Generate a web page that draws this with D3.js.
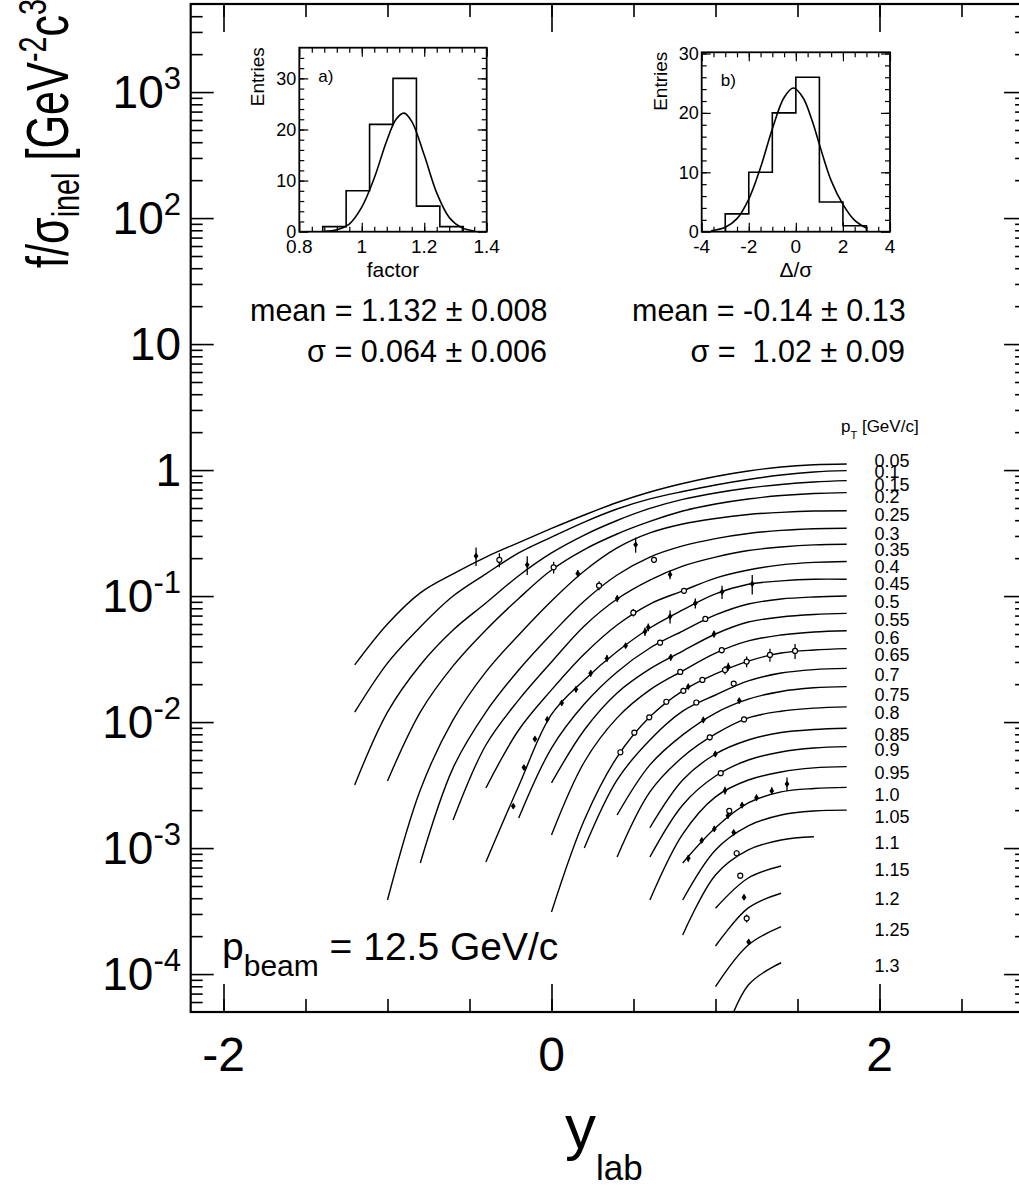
<!DOCTYPE html>
<html><head><meta charset="utf-8">
<script src="https://cdn.jsdelivr.net/npm/d3@7"></script>
<style>
body{margin:0;background:#fff}
svg{display:block}
text{font-family:"Liberation Sans",Arial,Helvetica,sans-serif;fill:#000}
</style></head>
<body><svg id="c" width="1019" height="1189"></svg>
<script>
// ---------------- data ----------------
const curvePt = [0.05,0.1,0.15,0.2,0.25,0.3,0.35,0.4,0.45,0.5,0.55,0.6,0.65,0.7,0.75,0.8,0.85,0.9,0.95,1.0,1.05,1.1,1.15,1.2,1.25,1.3];
const curvePtLabel = ["0.05","0.1","0.15","0.2","0.25","0.3","0.35","0.4","0.45","0.5","0.55","0.6","0.65","0.7","0.75","0.8","0.85","0.9","0.95","1.0","1.05","1.1","1.15","1.2","1.25","1.3"];
const curveStep = 0.2;
const curveX0 = [-1.2,-1.2,-1.2,-1.0,-1.0,-0.8,-0.6,-0.4,-0.4,-0.2,0,0,0,0.2,0.4,0.4,0.6,0.6,0.6,0.8,0.8,0.8,1.0,1.0,1.0,1.0];
const curveF = [
 [0.0284,0.060,0.106,0.150,0.204,0.266,0.344,0.440,0.553,0.670,0.783,0.890,0.984,1.058,1.102,1.118],
 [0.0120,0.0294,0.0569,0.100,0.150,0.220,0.294,0.387,0.491,0.590,0.676,0.762,0.842,0.914,0.966,0.989],
 [0.00317,0.0120,0.0284,0.0538,0.0881,0.145,0.220,0.305,0.398,0.496,0.585,0.658,0.721,0.769,0.804,0.824],
 [0.00341,0.0120,0.0279,0.0538,0.0957,0.161,0.234,0.311,0.391,0.473,0.538,0.590,0.628,0.652,0.662],
 [0.000387,0.00289,0.0104,0.0250,0.0491,0.0914,0.158,0.241,0.317,0.373,0.413,0.444,0.462,0.473,0.476],
 [0.000762,0.00433,0.0120,0.0259,0.0500,0.0914,0.147,0.204,0.250,0.286,0.314,0.332,0.342,0.345],
 [0.00167,0.00658,0.0150,0.0300,0.0579,0.0948,0.134,0.173,0.204,0.230,0.245,0.255,0.258],
 [0.00300,0.00865,0.0180,0.0347,0.0590,0.0865,0.110,0.139,0.161,0.177,0.185,0.188],
 [0.000776,0.00311,0.0115,0.0216,0.0363,0.0558,0.0776,0.104,0.124,0.132,0.136,0.136],
 [0.00173,0.00622,0.0139,0.0250,0.0387,0.0528,0.0708,0.0865,0.0948,0.0984,0.100],
 [0.00329,0.00865,0.0170,0.0264,0.0366,0.0500,0.0622,0.0682,0.0714,0.0729],
 [0.00127,0.00482,0.0108,0.0180,0.0255,0.0353,0.0441,0.0491,0.0519,0.0531],
 [0.000311,0.00167,0.00528,0.0110,0.0177,0.0241,0.0305,0.0353,0.0373,0.0383],
 [0.00100,0.00347,0.00721,0.0122,0.0164,0.0212,0.0245,0.0261,0.0267],
 [0.00183,0.00457,0.00791,0.0118,0.0152,0.0175,0.0187,0.0191],
 [0.000849,0.00279,0.00528,0.00805,0.0108,0.0122,0.0129,0.0132],
 [0.00145,0.00347,0.00558,0.00721,0.00826,0.00873,0.00893],
 [0.000849,0.00220,0.00373,0.00500,0.00579,0.00622,0.00638],
 [0.000387,0.00129,0.00255,0.00347,0.00402,0.00433,0.00443],
 [0.000762,0.00145,0.00228,0.00279,0.00297,0.00303],
 [0.000387,0.000966,0.00150,0.00183,0.00197,0.00200],
 [0.000204,0.000612,0.000966,0.00116,0.00123],
 [0.000333,0.000579,0.000721],
 [0.000167,0.000335,0.000438],
 [0.0000794,0.000170,0.000238],
 [0.0000208,0.0000818,0.000123]
];
const labelX = 1.97;
const labelF = [1.20,0.971,0.762,0.615,0.441,0.315,0.235,0.171,0.125,0.0903,0.0655,0.0468,0.0341,0.0239,0.0166,0.0119,0.0080,0.00601,0.00396,0.00267,0.00177,0.00110,0.000670,0.000400,0.000224,0.000118];

// measured points
const ptX = [-0.46,-0.318,-0.148,0.013,0.160,0.290,0.401,0.513,0.499,0.570,0.590,0.452,0.338,0.239,0.149,0.062,-0.026,-0.101,-0.168,-0.233,
 0.625,0.723,0.808,1.040,1.224,0.877,0.723,0.938,0.991,0.662,0.727,1.038,0.785,1.058,1.078,1.190,1.332,1.485,0.834,0.804,0.920,1.111,
 0.700,0.883,1.145,0.596,0.926,1.174,0.505,0.965,0.420,0.999,1.032,1.058,1.436,1.343,1.250,1.162,1.084,1.076,0.993,0.916,0.834,1.111,
 1.129,1.151,1.174,1.190,1.202];
const ptY = [0.208,0.194,0.177,0.169,0.151,0.121,0.0957,0.256,0.0738,0.0522,0.0565,0.0404,0.0320,0.0244,0.0182,0.0142,0.0105,0.00734,0.00436,0.00215,
 0.194,0.148,0.110,0.108,0.125,0.0877,0.0687,0.0658,0.0500,0.0427,0.0327,0.0372,0.0250,0.0259,0.0275,0.0302,0.0341,0.0367,0.0191,0.0177,0.0216,0.0202,
 0.0145,0.0143,0.0148,0.0109,0.0104,0.0105,0.00824,0.00757,0.00576,0.00558,0.00393,0.00286,0.00323,0.00284,0.00251,0.00219,0.00197,0.00181,0.00142,0.00115,0.000830,0.00133,
 0.000910,0.000604,0.000407,0.000277,0.000180];
const ptErr = [0.035,0.025,0.03,0.018,0.01,0.01,0.006,0.035,0.005,0.004,0.004,0.002,0.002,0.0015,0.001,0.0008,0.0005,0.0003,0.0002,0.0001,
 0.01,0.012,0.006,0.013,0.022,0.008,0.008,0.003,0.003,0.002,0.002,0.002,0.001,0.002,0.002,0.003,0.004,0.005,0.001,0.001,0.001,0.001,
 0.0007,0.0007,0.0008,0.0005,0.0006,0.0005,0.0004,0.0004,0.0003,0.0003,0.0002,0.0002,0.0004,0.0002,0.00015,0.00012,0.0001,0.0001,0.00008,0.00006,0.00005,0.00007,
 0.00005,0.00003,0.00002,0.00002,0.00001];
const ptOpen = [0,1,0,1,0,1,0,0,1,0,0,0,0,0,0,0,0,0,0,0,
 1,0,1,0,0,0,0,1,0,1,0,1,1,1,0,1,1,1,0,1,1,1,
 1,1,0,1,0,1,1,1,1,0,1,0,0,0,0,0,1,0,0,0,0,0,
 1,1,0,1,0];

// insets
const histA_edges = [0.875,0.95,1.025,1.1,1.175,1.25,1.325];
const histA_counts = [1,8,21,30,5,1];
const fitA_x = [0.88,0.92,0.96,1.00,1.04,1.08,1.11,1.135,1.16,1.20,1.24,1.28,1.32,1.36];
const fitA_y = [0.1,0.4,1.5,4.8,10.5,17.8,22.0,23.2,21.6,15.0,7.6,2.8,0.8,0.15];
const histB_edges = [-3,-2,-1,0,1,2,3];
const histB_counts = [3,10,20,26,5,1];
const fitB_x = [-3.6,-3.0,-2.5,-2.0,-1.5,-1.0,-0.5,-0.1,0.3,0.7,1.0,1.5,2.0,2.5,3.0];
const fitB_y = [0.15,0.75,2.2,5.5,10.8,17.3,22.6,24.2,22.6,18.6,14.7,8.6,4.6,1.9,0.6];
const statsA = ["mean = 1.132 \u00b1 0.008", "\u03c3 = 0.064 \u00b1 0.006"];
const statsB = ["mean = -0.14 \u00b1 0.13", "\u03c3 =  1.02 \u00b1 0.09"];

const xMajor = [-2,0,2];
const xMinor = [-2.0,-1.5,-1,-0.5,0,0.5,1,1.5,2,2.5];
const yDecades = [-4,-3,-2,-1,0,1,2,3];

// ---------------- drawing ----------------
const svg = d3.select("#c");
const F = {l:190.7, r:1027.1, t:4, b:1012};
const x = d3.scaleLinear().domain([-2.2,2.9]).range([F.l,F.r]);
const y = d3.scaleLog().domain([5e-5,5000]).range([F.b,F.t]);

svg.append("defs").append("clipPath").attr("id","clipMain")
  .append("rect").attr("x",F.l).attr("y",F.t).attr("width",F.r-F.l).attr("height",F.b-F.t);

function styleAxis(g,w){ g.select(".domain").remove(); g.selectAll("line").attr("stroke","#000").attr("stroke-width",w); }

const yMinor = [];
yDecades.concat([-5]).forEach(d=>{ for(let m=2;m<=9;m++){ const v=m*Math.pow(10,d); if(v>5e-5 && v<5000) yMinor.push(v);} });
const yMaj = yDecades.map(d=>Math.pow(10,d));
[[d3.axisBottom(x).tickValues(xMajor).tickSize(-28),`translate(0,${F.b})`],
 [d3.axisBottom(x).tickValues(xMinor).tickSize(-13),`translate(0,${F.b})`],
 [d3.axisTop(x).tickValues(xMajor).tickSize(-28),`translate(0,${F.t})`],
 [d3.axisTop(x).tickValues(xMinor).tickSize(-13),`translate(0,${F.t})`],
 [d3.axisLeft(y).tickValues(yMaj).tickSize(-23),`translate(${F.l},0)`],
 [d3.axisLeft(y).tickValues(yMinor).tickSize(-12),`translate(${F.l},0)`],
 [d3.axisRight(y).tickValues(yMaj).tickSize(-23),`translate(${F.r},0)`],
 [d3.axisRight(y).tickValues(yMinor).tickSize(-12),`translate(${F.r},0)`]
].forEach(([ax,tr])=>{
  const g = svg.append("g").attr("transform",tr).call(ax.tickFormat(""));
  styleAxis(g,1.6);
});

svg.append("rect").attr("x",F.l).attr("y",F.t).attr("width",F.r-F.l).attr("height",F.b-F.t)
  .attr("fill","none").attr("stroke","#000").attr("stroke-width",2.2);

svg.append("g").selectAll("text").data(xMajor).join("text")
  .attr("x",d=>x(d)).attr("y",1071).attr("text-anchor","middle").attr("font-size",48)
  .text(d=>String(d));

yDecades.forEach(d=>{
  const t = svg.append("text").attr("x",181).attr("y",y(Math.pow(10,d))+16).attr("text-anchor","end").attr("font-size",46);
  if(d===0) t.text("1");
  else if(d===1) t.text("10");
  else { t.append("tspan").text("10"); t.append("tspan").attr("font-size",31).attr("dy",-19).text(String(d)); }
});

const yt = svg.append("text").attr("transform","translate(68,268) rotate(-90) scale(0.8,1.1)").attr("font-size",54);
yt.append("tspan").text("f/\u03c3");
yt.append("tspan").attr("font-size",36).attr("dy",10).text("inel");
yt.append("tspan").attr("dy",-10).text(" [GeV");
yt.append("tspan").attr("font-size",36).attr("dy",-20).text("-2");
yt.append("tspan").attr("dy",20).text("c");
yt.append("tspan").attr("font-size",36).attr("dy",-20).text("3");
yt.append("tspan").attr("dy",20).text("]");

const xt = svg.append("text").attr("x",565).attr("y",1148).attr("font-size",62);
xt.append("tspan").text("y");
xt.append("tspan").attr("font-size",35).attr("dy",32).text("lab");

const line = d3.line().x(d=>x(d[0])).y(d=>y(d[1])).curve(d3.curveCatmullRom.alpha(0.5));
const gc = svg.append("g").attr("clip-path","url(#clipMain)");
curveF.forEach((vals,i)=>{
  const pts = vals.map((v,k)=>[Math.round((curveX0[i]+curveStep*k)*10)/10, v]);
  gc.append("path").attr("d",line(pts)).attr("fill","none").attr("stroke","#000").attr("stroke-width",1.4);
});

svg.append("g").selectAll("text").data(curvePtLabel).join("text")
  .attr("x",x(labelX)).attr("y",(d,i)=>y(labelF[i])+6.5).attr("font-size",18).text(d=>d);
const pl = svg.append("text").attr("x",841).attr("y",432).attr("font-size",17);
pl.append("tspan").text("p");
pl.append("tspan").attr("font-size",11).attr("dy",7).text("T");
pl.append("tspan").attr("dy",-7).text(" [GeV/c]");

const gp = svg.append("g").attr("clip-path","url(#clipMain)");
ptX.forEach((xv,i)=>{
  const yv=ptY[i], e=ptErr[i];
  gp.append("line").attr("x1",x(xv)).attr("x2",x(xv)).attr("y1",y(yv+e)).attr("y2",y(Math.max(yv-e,1e-6)))
    .attr("stroke","#000").attr("stroke-width",1.3);
  if(ptOpen[i]) gp.append("circle").attr("cx",x(xv)).attr("cy",y(yv)).attr("r",2.5).attr("fill","#fff").attr("stroke","#000").attr("stroke-width",1.2);
  else gp.append("path").attr("transform",`translate(${x(xv)},${y(yv)})`).attr("d","M0,-3.4L2.4,0L0,3.4L-2.4,0Z").attr("fill","#000");
});

const pb = svg.append("text").attr("x",222).attr("y",960).attr("font-size",39);
pb.append("tspan").text("p");
pb.append("tspan").attr("font-size",30).attr("dy",16).text("beam");
pb.append("tspan").attr("dy",-16).text(" = 12.5 GeV/c");

function inset(c){
  const xs = d3.scaleLinear().domain(c.xd).range([c.x0,c.x1]);
  const ys = d3.scaleLinear().domain(c.yd).range([c.y1,c.y0]);
  const g = svg.append("g");
  const mk = (ax,tr,len,vals)=>{ const a=g.append("g").attr("transform",tr).call(ax.tickValues(vals).tickSize(-len).tickFormat("")); styleAxis(a,1.2); };
  mk(d3.axisBottom(xs),`translate(0,${c.y1})`,9,c.xMaj); mk(d3.axisBottom(xs),`translate(0,${c.y1})`,5,c.xMin);
  mk(d3.axisTop(xs),`translate(0,${c.y0})`,9,c.xMaj); mk(d3.axisTop(xs),`translate(0,${c.y0})`,5,c.xMin);
  mk(d3.axisLeft(ys),`translate(${c.x0},0)`,9,c.yMaj); mk(d3.axisLeft(ys),`translate(${c.x0},0)`,5,c.yMin);
  mk(d3.axisRight(ys),`translate(${c.x1},0)`,9,c.yMaj); mk(d3.axisRight(ys),`translate(${c.x1},0)`,5,c.yMin);
  g.append("rect").attr("x",c.x0).attr("y",c.y0).attr("width",c.x1-c.x0).attr("height",c.y1-c.y0)
    .attr("fill","none").attr("stroke","#000").attr("stroke-width",1.8);
  const hp=[[c.edges[0],0]];
  c.counts.forEach((n,i)=>{ hp.push([c.edges[i],n]); hp.push([c.edges[i+1],n]); });
  hp.push([c.edges[c.edges.length-1],0]);
  g.append("path").attr("d",d3.line().x(d=>xs(d[0])).y(d=>ys(d[1]))(hp)).attr("fill","none").attr("stroke","#000").attr("stroke-width",1.6);
  g.append("path").attr("d",d3.line().x(d=>xs(d[0])).y(d=>ys(d[1])).curve(d3.curveCatmullRom)(c.fx.map((v,i)=>[v,c.fy[i]])))
    .attr("fill","none").attr("stroke","#000").attr("stroke-width",1.6);
  g.selectAll(".xl").data(c.xLab).join("text").attr("x",d=>xs(d)).attr("y",c.y1+21).attr("text-anchor","middle").attr("font-size",19).text(d=>String(d));
  g.selectAll(".yl").data(c.yMaj).join("text").attr("x",c.x0-3).attr("y",d=>ys(d)+6.5).attr("text-anchor","end").attr("font-size",18).text(d=>String(d));
  g.append("text").attr("transform",`translate(${c.entX},${c.y0+29}) rotate(-90)`).attr("text-anchor","middle").attr("font-size",19).text("Entries");
  g.append("text").attr("x",(c.x0+c.x1)/2).attr("y",c.y1+45).attr("text-anchor","middle").attr("font-size",21).text(c.title);
  g.append("text").attr("x",c.x0+19).attr("y",c.y0+34).attr("font-size",17).text(c.tag);
}
inset({x0:299.3,x1:486.7,y0:47.7,y1:231.7,xd:[0.8,1.4],yd:[0,36],
  xMaj:[0.8,1.0,1.2,1.4],xMin:d3.range(0.84,1.4,0.04),xLab:[0.8,1,1.2,1.4],yMaj:[0,10,20,30],yMin:d3.range(2,36,2),
  edges:histA_edges,counts:histA_counts,fx:fitA_x,fy:fitA_y,title:"factor",tag:"a)",entX:264});
inset({x0:701.7,x1:890,y0:52.3,y1:231.7,xd:[-4,4],yd:[0,30.2],
  xMaj:[-4,-2,0,2,4],xMin:d3.range(-3.5,4,0.5),xLab:[-4,-2,0,2,4],yMaj:[0,10,20,30],yMin:d3.range(2,30.2,2),
  edges:histB_edges,counts:histB_counts,fx:fitB_x,fy:fitB_y,title:"\u0394/\u03c3",tag:"b)",entX:667});

svg.append("text").attr("x",250).attr("y",321).attr("font-size",30.5).text(statsA[0]);
svg.append("text").attr("x",547).attr("y",362).attr("text-anchor","end").attr("font-size",30.5).style("white-space","pre").text(statsA[1]);
svg.append("text").attr("x",632).attr("y",321).attr("font-size",30.5).text(statsB[0]);
svg.append("text").attr("x",905).attr("y",362).attr("text-anchor","end").attr("font-size",30.5).style("white-space","pre").text(statsB[1]);
</script></body></html>
